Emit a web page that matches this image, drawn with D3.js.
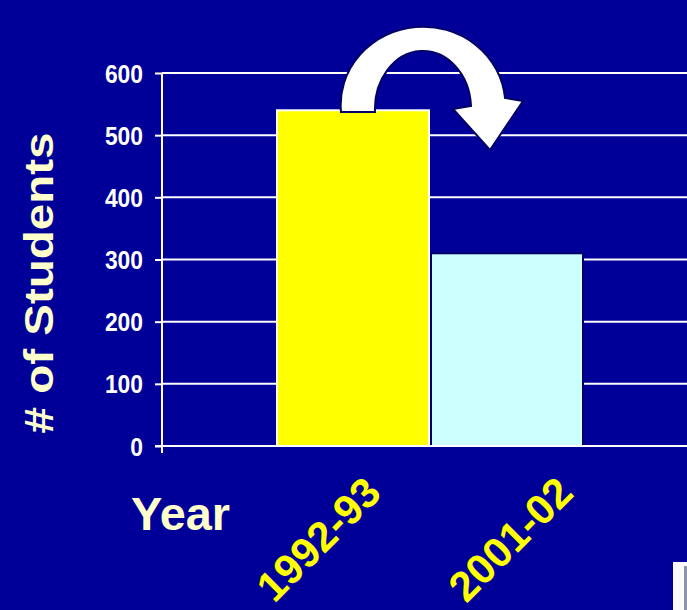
<!DOCTYPE html>
<html>
<head>
<meta charset="utf-8">
<script src="https://cdn.jsdelivr.net/npm/d3@7"></script>
<style>
  html, body { margin: 0; padding: 0; background: #000099; }
  svg { display: block; }
</style>
</head>
<body>
<svg id="chart" width="687" height="610"></svg>
<script>
var years = ["1992-93", "2001-02"];
var students = [540, 310];
var barColors = ["#FFFF00", "#CCFFFF"];
var barStrokes = ["#FFFFFF", "#000066"];
var yTicks = [0, 100, 200, 300, 400, 500, 600];

var svg = d3.select("#chart"),
    width = +svg.attr("width"),
    height = +svg.attr("height");

svg.append("rect").attr("width", width).attr("height", height).attr("fill", "#000099");

var y = d3.scaleLinear().domain([0, 600]).range([446, 73]);
var x = d3.scaleBand().domain(years).range([276, 584]).paddingInner(0).paddingOuter(0);

// gridlines
svg.append("g")
  .selectAll("line")
  .data(yTicks)
  .enter().append("line")
    .attr("x1", 162).attr("x2", width)
    .attr("y1", function(d) { return y(d); })
    .attr("y2", function(d) { return y(d); })
    .attr("stroke", "#fff")
    .attr("stroke-width", 2);

// y axis
var yAxis = d3.axisLeft(y).tickValues(yTicks).tickSize(7).tickPadding(12);
var gy = svg.append("g").attr("transform", "translate(162,0)").call(yAxis);
gy.select(".domain").remove();
gy.selectAll(".tick line").attr("stroke", "#fff").attr("stroke-width", 2);
gy.selectAll(".tick text")
  .attr("fill", "#fff")
  .attr("font-family", "'Liberation Sans', Arial, sans-serif")
  .attr("font-weight", "bold")
  .attr("font-size", "25px")
  .attr("textLength", function(d) { return String(d).length * 12.7; })
  .attr("lengthAdjust", "spacingAndGlyphs")
  .attr("dy", "0.36em");
gy.append("line")
  .attr("x1", 0).attr("x2", 0)
  .attr("y1", y(600)).attr("y2", 453)
  .attr("stroke", "#fff").attr("stroke-width", 2);

// bars
svg.append("g")
  .selectAll("rect")
  .data(years)
  .enter().append("rect")
    .attr("x", function(d) { return x(d) + 1; })
    .attr("y", function(d, i) { return y(students[i]); })
    .attr("width", x.bandwidth() - 2)
    .attr("height", function(d, i) { return y(0) - y(students[i]); })
    .attr("fill", function(d, i) { return barColors[i]; })
    .attr("stroke", function(d, i) { return barStrokes[i]; })
    .attr("stroke-width", 2);

// baseline on top of bars
svg.append("line")
  .attr("x1", 155).attr("x2", width)
  .attr("y1", y(0)).attr("y2", y(0))
  .attr("stroke", "#fff").attr("stroke-width", 2);

// curved arrow
svg.append("path")
  .attr("d", "M341,112 A82,78 0 0 1 505,98 L523,101 L490,150 L453,109 L471,106 A48,58 0 0 0 375,112 Z")
  .attr("fill", "#fff")
  .attr("stroke", "#000066")
  .attr("stroke-width", 2)
  .attr("stroke-linejoin", "miter");

// category labels
var labelNudge = [-2, 36];
svg.append("g")
  .selectAll("text")
  .data(years)
  .enter().append("text")
    .attr("transform", function(d, i) {
        var cx = x(d) + x.bandwidth() * 0.71 + labelNudge[i];
        return "translate(" + cx + ",495) rotate(-45)";
    })
    .attr("text-anchor", "end")
    .attr("fill", "#FFFF00")
    .attr("font-family", "'Liberation Sans', Arial, sans-serif")
    .attr("font-weight", "bold")
    .attr("font-size", "42px")
    .text(function(d) { return d; });

// axis titles
svg.append("text")
  .attr("x", 131).attr("y", 530)
  .attr("fill", "#FFFFCC")
  .attr("font-family", "'Liberation Sans', Arial, sans-serif")
  .attr("font-weight", "bold")
  .attr("font-size", "46px")
  .attr("textLength", 99)
  .attr("lengthAdjust", "spacingAndGlyphs")
  .text("Year");

svg.append("text")
  .attr("transform", "translate(53,283) rotate(-90)")
  .attr("text-anchor", "middle")
  .attr("fill", "#FFFFCC")
  .attr("font-family", "'Liberation Sans', Arial, sans-serif")
  .attr("font-weight", "bold")
  .attr("font-size", "40px")
  .attr("textLength", 301)
  .attr("lengthAdjust", "spacingAndGlyphs")
  .text("# of Students");

// corner fragment of a neighbouring window
svg.append("rect").attr("x", 673).attr("y", 562).attr("width", 14).attr("height", 48).attr("fill", "#fafafa");
svg.append("rect").attr("x", 684).attr("y", 566).attr("width", 3).attr("height", 44).attr("fill", "#8a96a8");
</script>
</body>
</html>
